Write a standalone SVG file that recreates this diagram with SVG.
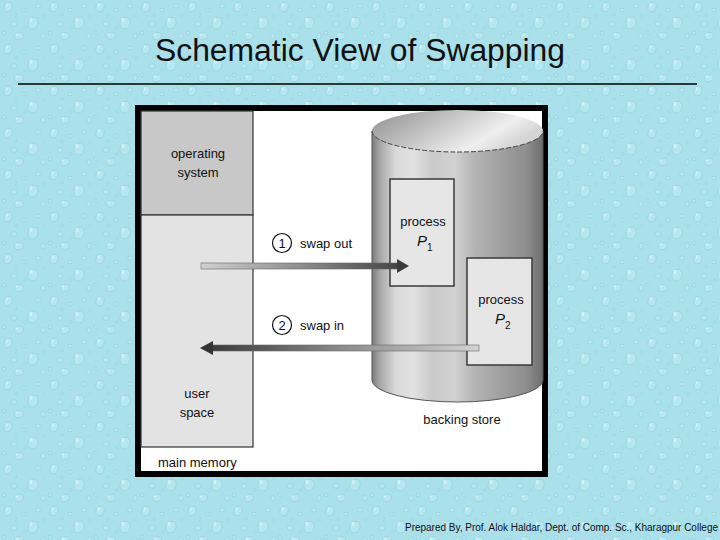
<svg xmlns="http://www.w3.org/2000/svg" width="720" height="540" viewBox="0 0 720 540">
<defs>
<style>
.t{font-family:"Liberation Sans",Arial,sans-serif;fill:#111}
.lbl{font-size:13px;text-anchor:middle}
.lbl2{font-size:13px}
.box{fill:#e6e6e6;stroke:#3a3a3a;stroke-width:1.5}
.num{fill:#fff;stroke:#111;stroke-width:1.2}
.drop{fill:#b6e6ee;stroke:#94d4df;stroke-width:0.7}
.hi{fill:#d2f1f6}
</style>
<pattern id="bg" width="46" height="42" patternUnits="userSpaceOnUse">
<rect width="46" height="42" fill="#a9e0ea"/>
<ellipse class="drop" cx="8" cy="7" rx="4" ry="5" transform="rotate(25 8 7)"/>
<ellipse class="hi" cx="7" cy="5" rx="1.2" ry="1.8"/>
<ellipse class="drop" cx="24" cy="10" rx="2.2" ry="1.8"/>
<ellipse class="drop" cx="38" cy="6" rx="2.5" ry="2"/>
<ellipse class="drop" cx="33" cy="23" rx="5" ry="6" transform="rotate(20 33 23)"/>
<ellipse class="hi" cx="31" cy="20" rx="1.5" ry="2.2"/>
<ellipse class="drop" cx="14" cy="24" rx="3" ry="2.4"/>
<ellipse class="drop" cx="4" cy="33" rx="1.8" ry="1.8"/>
<ellipse class="drop" cx="19" cy="36" rx="4.5" ry="3.4" transform="rotate(-15 19 36)"/>
<ellipse class="hi" cx="17" cy="34.5" rx="1.6" ry="1"/>
<ellipse class="drop" cx="43" cy="36" rx="2.2" ry="2.8"/>
<ellipse class="drop" cx="25" cy="28" rx="1.4" ry="1.2"/>
<ellipse class="drop" cx="44" cy="16" rx="1.4" ry="1.4"/>
<ellipse class="drop" cx="16" cy="15" rx="1.2" ry="1.2"/>
</pattern>
<linearGradient id="body" x1="372" y1="0" x2="543" y2="0" gradientUnits="userSpaceOnUse">
<stop offset="0" stop-color="#7c7c7c"/>
<stop offset="0.05" stop-color="#a9a9a9"/>
<stop offset="0.14" stop-color="#d9d9d9"/>
<stop offset="0.24" stop-color="#e2e2e2"/>
<stop offset="0.36" stop-color="#c9c9c9"/>
<stop offset="0.48" stop-color="#d2d2d2"/>
<stop offset="0.6" stop-color="#b4b4b4"/>
<stop offset="0.75" stop-color="#a0a0a0"/>
<stop offset="0.9" stop-color="#8e8e8e"/>
<stop offset="1" stop-color="#6e6e6e"/>
</linearGradient>
<linearGradient id="top" x1="0" y1="0" x2="1" y2="0.4">
<stop offset="0" stop-color="#8f8f8f"/>
<stop offset="0.45" stop-color="#c4c4c4"/>
<stop offset="0.8" stop-color="#efefef"/>
<stop offset="1" stop-color="#d5d5d5"/>
</linearGradient>
<linearGradient id="g1" x1="201" y1="0" x2="409" y2="0" gradientUnits="userSpaceOnUse">
<stop offset="0" stop-color="#d0d0d0"/>
<stop offset="0.5" stop-color="#8a8a8a"/>
<stop offset="1" stop-color="#3c3c3c"/>
</linearGradient>
<linearGradient id="g2" x1="479" y1="0" x2="200" y2="0" gradientUnits="userSpaceOnUse">
<stop offset="0" stop-color="#d4d4d4"/>
<stop offset="0.5" stop-color="#8a8a8a"/>
<stop offset="1" stop-color="#333"/>
</linearGradient>
</defs>
<rect width="720" height="540" fill="url(#bg)"/>
<text class="t" x="360" y="61" font-size="31" text-anchor="middle" textLength="410" lengthAdjust="spacingAndGlyphs">Schematic View of Swapping</text>
<line x1="18" y1="84" x2="697" y2="84" stroke="#000" stroke-width="1.3"/>
<g id="frame">
<rect x="138" y="108" width="407" height="366" fill="#fff" stroke="#000" stroke-width="6"/>
</g>
<g id="main-memory">
<rect x="141" y="111" width="112" height="104" fill="#c8c8c8" stroke="#333" stroke-width="1.2"/>
<rect x="141" y="215" width="112" height="232" fill="#e3e3e3" stroke="#333" stroke-width="1.2"/>
<text class="t lbl" x="198" y="158">operating</text>
<text class="t lbl" x="198" y="177">system</text>
<text class="t lbl" x="197" y="398">user</text>
<text class="t lbl" x="197" y="417">space</text>
<text class="t lbl2" x="158" y="467" font-size="12.5">main memory</text>
</g>
<g id="backing-store">
<path d="M372,131 L372,380 A85.5,22 0 0 0 543,380 L543,131 Z" fill="url(#body)" stroke="#555" stroke-width="1"/>
<ellipse cx="457.5" cy="131" rx="85.5" ry="21" fill="url(#top)"/>
<path d="M372,131 A85.5,21 0 0 0 543,131" fill="none" stroke="#444" stroke-width="1" stroke-dasharray="5 2"/>
<text class="t lbl" x="462" y="424">backing store</text>
</g>
<g id="process-p1">
<rect class="box" x="390" y="179" width="64" height="107"/>
<text class="t lbl" x="423" y="226">process</text>
<text class="t" x="417" y="246" font-size="15" font-style="italic">P</text>
<text class="t" x="427" y="251" font-size="10">1</text>
</g>
<g id="process-p2">
<rect class="box" x="467" y="258" width="65" height="107"/>
<text class="t lbl" x="501" y="304">process</text>
<text class="t" x="495" y="324" font-size="15" font-style="italic">P</text>
<text class="t" x="505" y="329" font-size="10">2</text>
</g>
<g id="connectors">
<rect x="201" y="263" width="198" height="6" fill="url(#g1)" stroke="#666" stroke-width="0.6"/>
<polygon points="397,259 409,266 397,273" fill="#3c3c3c"/>
<rect x="211" y="345" width="268" height="6" fill="url(#g2)" stroke="#666" stroke-width="0.6"/>
<polygon points="213,341 200,348 213,355" fill="#333"/>
</g>
<g id="label-swap-out">
<circle class="num" cx="282" cy="243" r="9.5"/>
<text class="t lbl" x="282" y="248">1</text>
<text class="t lbl2" x="300" y="248">swap out</text>
</g>
<g id="label-swap-in">
<circle class="num" cx="282" cy="325" r="9.5"/>
<text class="t lbl" x="282" y="330">2</text>
<text class="t lbl2" x="300" y="330">swap in</text>
</g>
<text class="t" x="405" y="531" font-size="10" textLength="313" lengthAdjust="spacingAndGlyphs">Prepared By, Prof. Alok Haldar, Dept. of Comp. Sc., Kharagpur College</text>
</svg>
